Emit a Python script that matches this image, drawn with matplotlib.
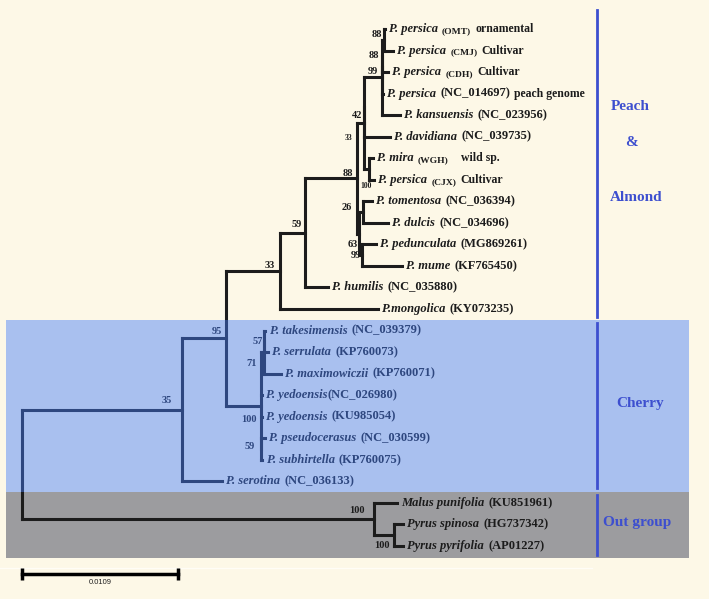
import matplotlib.pyplot as plt
from matplotlib.patches import Rectangle

# ---- tips, top to bottom ----
tip_species = ['P. persica', 'P. persica', 'P. persica', 'P. persica', 'P. kansuensis',
               'P. davidiana', 'P. mira', 'P. persica', 'P. tomentosa', 'P. dulcis',
               'P. pedunculata', 'P. mume', 'P. humilis', 'P.mongolica', 'P. takesimensis',
               'P. serrulata', 'P. maximowiczii', 'P. yedoensis', 'P. yedoensis',
               'P. pseudocerasus', 'P. subhirtella', 'P. serotina', 'Malus punifolia',
               'Pyrus spinosa', 'Pyrus pyrifolia']
tip_codes = ['(OMT)', '(CMJ)', '(CDH)', '(NC_014697)', '(NC_023956)',
             '(NC_039735)', '(WGH)', '(CJX)', '(NC_036394)', '(NC_034696)',
             '(MG869261)', '(KF765450)', '(NC_035880)', '(KY073235)', '(NC_039379)',
             '(KP760073)', '(KP760071)', '(NC_026980)', '(KU985054)',
             '(NC_030599)', '(KP760075)', '(NC_036133)', '(KU851961)',
             '(HG737342)', '(AP01227)']
tip_notes = ['ornamental', 'Cultivar', 'Cultivar', 'peach genome', '',
             '', 'wild sp.', 'Cultivar', '', '',
             '', '', '', '', '',
             '', '', '', '',
             '', '', '', '',
             '', '']
tip_parent = ['nA', 'nA', 'nB', 'nC', 'nP',
              'n42', 'n100m', 'n100m', 'n26', 'n26',
              'n99m', 'n99m', 'n59', 'n33', 'n57',
              'n57', 'n71', 'nCh', 'nCh',
              'n59c', 'n59c', 'n35', 'nOut',
              'nPy', 'nPy']
# distance from root (substitutions per site)
tip_depth = [0.02533, 0.02592, 0.02557, 0.02522, 0.02641,
             0.02571, 0.02452, 0.02459, 0.02446, 0.02557,
             0.02473, 0.02655, 0.02138, 0.02487, 0.01701,
             0.01719, 0.01810, 0.01677, 0.01677,
             0.01698, 0.01680, 0.01397, 0.02620,
             0.02662, 0.02662]

# ---- internal nodes ----
node_names = ['root', 'n35', 'n95', 'n33', 'n59', 'n88', 'n33s', 'n42', 'nP', 'nC', 'nB', 'nA',
              'n100m', 'n63', 'n26', 'n99m', 'nCh', 'n71', 'n57', 'n59c', 'nOut', 'nPy']
node_parent = [None, 'root', 'n35', 'n95', 'n33', 'n59', 'n88', 'n33s', 'n42', 'nP', 'nC', 'nB',
               'n33s', 'n88', 'n63', 'n63', 'n95', 'nCh', 'n71', 'nCh', 'root', 'nOut']
node_depth = [0.0, 0.01118, 0.01425, 0.01803, 0.01977, 0.02341, 0.02390, 0.02390, 0.02515,
              0.02515, 0.02515, 0.02529, 0.02425, 0.02355, 0.02383, 0.02376, 0.01670,
              0.01691, 0.01691, 0.01670, 0.02459, 0.02599]
node_support = ['', '35', '95', '33', '59', '88', '33', '42', '', '99', '88', '88',
                '100', '63', '26', '99', '100', '71', '57', '59', '100', '100']

scale_length = 0.0109
group_names = ['Cherry', 'Out group']
group_tips = [(0, 13), (14, 21), (22, 24)]

# ---- layout ----
n_tips = len(tip_species)
tip_names = ['t%d' % i for i in range(n_tips)]
parent = dict(zip(tip_names + node_names, tip_parent + node_parent))
depth = dict(zip(tip_names + node_names, tip_depth + node_depth))
children = {n: [] for n in node_names}
for name in tip_names + node_names:
    if parent[name] is not None:
        children[parent[name]].append(name)

ypos = {t: i for i, t in enumerate(tip_names)}


def flat_children(n):
    # zero-length internal branches are treated as one multifurcation
    out = []
    for c in children[n]:
        if c in children and depth[c] == depth[n]:
            out.extend(flat_children(c))
        else:
            out.append(c)
    return out


def place(n):
    if n not in ypos:
        for c in children[n]:
            place(c)
        ys = [ypos[c] for c in flat_children(n)]
        ypos[n] = (min(ys) + max(ys)) / 2
    return ypos[n]


place('root')

W, H = 709, 599
px = scale_length / 156          # data units per pixel
row = 21.54                      # pixels per tip
serif = 'Liberation Serif'
line_col = '#1c1c1c'
blue = '#3d4fcf'

fig = plt.figure(figsize=(W / 100, H / 100), dpi=100, facecolor='#fdf8e7')
ax = fig.add_axes([0, 0, 1, 1])
ax.set_facecolor('#fdf8e7')
ax.set_xlim(-22 * px, (W - 22) * px)
ax.set_ylim((H - 29) / row, -29 / row)
ax.axis('off')
yt = ax.get_yaxis_transform()

# grey out-group band (under the tree)
g0, g1 = group_tips[2]
ax.add_patch(Rectangle((6 / W, g0 - 0.5), 683 / W, g1 - g0 + 1.05, transform=yt,
                       facecolor='#9c9c9f', edgecolor='none', zorder=0))
ax.plot([0, 592 / W], [(568 - 29) / row] * 2, transform=yt, color='#fffdf6', lw=1, zorder=0)

# branches
for name, p in parent.items():
    if p is None:
        continue
    ax.plot([depth[p], depth[name]], [ypos[name]] * 2, color=line_col, lw=2.2,
            solid_capstyle='projecting', zorder=2)
for n in node_names:
    ys = [ypos[c] for c in children[n]]
    ax.plot([depth[n]] * 2, [min(ys), max(ys)], color=line_col, lw=2.2,
            solid_capstyle='projecting', zorder=2)

# support values: (dx, dy) pixel offset of label's right-middle from its node
label_pos = {'n35': (-10, -9), 'n95': (-4, -7), 'n33': (-5, -5), 'n59': (-3, -8),
             'n88': (-4, -5), 'nA': (-2, -5), 'nB': (-3, 0), 'nC': (-4, 5),
             'n42': (-2, 8), 'n33s': (-12, 15), 'n26': (-11, -5), 'n63': (-1, 11),
             'n99m': (-1, 0), 'n100m': (3, 17), 'n57': (-1, 0), 'n71': (-7, 11),
             'n59c': (-6, -3), 'nCh': (-4, 14), 'nOut': (-9, -9), 'nPy': (-4, 10)}
small_labels = ['n33s', 'n100m']
for n, s in zip(node_names, node_support):
    if not s:
        continue
    dx, dy = label_pos[n]
    ax.annotate(s, xy=(depth[n], ypos[n]), xytext=(dx * 0.72, -dy * 0.72),
                textcoords='offset points', ha='right', va='center',
                family=serif, fontweight='bold',
                fontsize=5.5 if n in small_labels else 7.5, color=line_col, zorder=3)

# tip labels
small_codes = ['(OMT)', '(CMJ)', '(CDH)', '(WGH)', '(CJX)']
for i, t in enumerate(tip_names):
    prev = ax.annotate(tip_species[i], xy=(depth[t], i), xytext=(3, 0),
                       textcoords='offset points', ha='left', va='center',
                       family=serif, fontweight='bold', fontstyle='italic',
                       fontsize=9, color=line_col, zorder=3)
    code = tip_codes[i]
    gap = 0 if tip_species[i] == 'P. yedoensis' and code.startswith('(NC') else 3
    prev = ax.annotate(code, xy=(1, 0), xycoords=prev, xytext=(gap, 0),
                       textcoords='offset points', ha='left', va='bottom',
                       family=serif, fontweight='bold',
                       fontsize=6.8 if code in small_codes else 9, color=line_col, zorder=3)
    if tip_notes[i]:
        ngap = 9 if tip_notes[i] == 'wild sp.' else 3
        ax.annotate(tip_notes[i], xy=(1, 0), xycoords=prev, xytext=(ngap, 0),
                    textcoords='offset points', ha='left', va='bottom',
                    family=serif, fontweight='bold', fontsize=8.5,
                    color=line_col, zorder=3)

# translucent blue cherry band (over the tree)
c0, c1 = group_tips[1]
ax.add_patch(Rectangle((6 / W, c0 - 0.5), 683 / W, c1 - c0 + 1, transform=yt,
                       facecolor='#447cf9', alpha=0.45, edgecolor='none', zorder=4))

# group separators and names
line_pad = [(0.88, 0.37), (0.35, 0.31), (0.37, 0.42)]
for (a, b), (pt, pb) in zip(group_tips, line_pad):
    ax.plot([597 / W] * 2, [a - pt, b + pb], transform=yt, color=blue, lw=2, zorder=5)
for txt, xp, yv in [('Peach', 630, 3.62), ('&', 631, 5.29), ('Almond', 636, 7.8),
                    (group_names[0], 640, 17.4), (group_names[1], 637, 22.9)]:
    ax.text(xp / W, yv, txt, transform=yt, ha='center', va='center', family=serif,
            fontweight='bold', fontsize=11, color=blue, zorder=5)

# scale bar
ys = (574 - 29) / row
ax.plot([0, scale_length], [ys, ys], color='black', lw=2.5, marker='|',
        markersize=8, markeredgewidth=2.5, zorder=5)
ax.text(scale_length / 2, (582 - 29) / row, '%g' % scale_length, ha='center',
        va='center', family='Liberation Sans', fontsize=5.5, color='#222222')

fig.savefig('out.png', dpi=100, facecolor=fig.get_facecolor())
